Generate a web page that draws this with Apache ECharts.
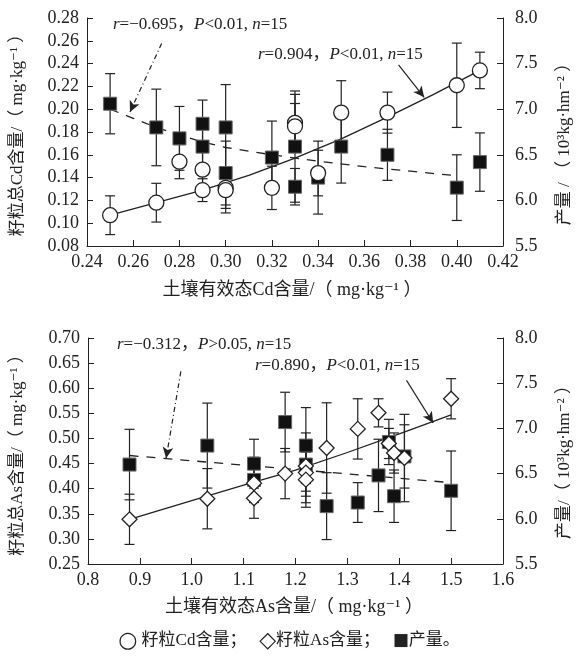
<!DOCTYPE html>
<html><head><meta charset="utf-8">
<script src="https://cdn.jsdelivr.net/npm/echarts@6/dist/echarts.min.js"></script>
<style>html,body{margin:0;padding:0;background:#fff}#c{width:576px;height:660px}</style>
</head><body><div id="c"></div>
<script>
// ---------- Top chart: soil available Cd ----------
const cdX      = [0.25,0.27,0.28,0.29,0.29,0.30,0.30,0.32,0.33,0.33,0.34,0.35,0.37,0.40,0.41];
const cdGrain  = [0.107,0.118,0.154,0.147,0.129,0.131,0.129,0.131,0.188,0.185,0.144,0.197,0.197,0.221,0.234];
const cdGrainErr=[0.017,0.017,0.015,0.015,0.010,0.018,0.020,0.019,0.025,0.020,0.020,0.028,0.018,0.037,0.016];
const cdYieldX = [0.25,0.27,0.28,0.29,0.29,0.30,0.30,0.32,0.33,0.33,0.34,0.35,0.37,0.40,0.41];
const cdYield  = [7.06,6.80,6.68,6.84,6.59,6.80,6.30,6.47,6.59,6.15,6.25,6.59,6.50,6.14,6.42];
const cdYieldErr=[0.33,0.42,0.35,0.26,0.30,0.47,0.35,0.40,0.61,0.20,0.40,0.40,0.28,0.36,0.32];
const cdFitX   = [0.25,0.27,0.29,0.31,0.33,0.35,0.37,0.39,0.41];
const cdFitY   = [0.107,0.118,0.129,0.142,0.157,0.174,0.193,0.213,0.234];
const cdYFitX  = [0.25,0.26,0.27,0.28,0.29,0.30,0.32,0.34,0.36,0.38,0.40];
const cdYFitY  = [7.00,6.90,6.80,6.72,6.64,6.58,6.50,6.43,6.37,6.32,6.27];
const cdArrowNeg = [[0.2723,7.72],[0.2586,6.97]];
const cdArrowPos = [[0.3748,0.2388],[0.3859,0.2104]];
const cdXTicks = {min:0.24,max:0.42,step:0.02};
const cdYTicks = {min:0.08,max:0.28,step:0.02};
const yieldTicks = {min:5.5,max:8.0,step:0.5};

// ---------- Bottom chart: soil available As ----------
const asX      = [0.88,1.03,1.12,1.12,1.18,1.22,1.22,1.22,1.26,1.32,1.36,1.38,1.39,1.41,1.50];
const asGrain  = [0.339,0.380,0.381,0.411,0.430,0.445,0.432,0.418,0.481,0.519,0.551,0.490,0.471,0.461,0.579];
const asGrainErr=[0.050,0.060,0.040,0.030,0.050,0.050,0.060,0.055,0.090,0.060,0.028,0.030,0.040,0.087,0.040];
const asYieldX = [0.88,1.03,1.12,1.12,1.18,1.22,1.22,1.26,1.32,1.36,1.38,1.39,1.41,1.50];
const asYield  = [6.60,6.81,6.61,6.43,7.07,6.81,6.60,6.14,6.18,6.48,6.85,6.25,6.69,6.31];
const asYieldErr=[0.39,0.47,0.27,0.25,0.33,0.42,0.35,0.37,0.22,0.40,0.25,0.29,0.35,0.44];
const asFitX   = [0.88,1.0,1.1,1.2,1.3,1.4,1.5];
const asFitY   = [0.339,0.376,0.407,0.437,0.472,0.509,0.547];
const asYFitX  = [0.88,1.50];
const asYFitY  = [6.70,6.40];
const asArrowNeg = [[0.979,7.63],[0.9506,6.67]];
const asArrowPos = [[1.414,0.6156],[1.4654,0.5307]];
const asXTicks = {min:0.8,max:1.6,step:0.1};
const asYTicks = {min:0.25,max:0.70,step:0.05};

const FONT = "'Liberation Serif','DejaVu Serif','Noto Sans CJK SC',serif";
const INK = '#222';

function xAx(g, t, dec){
  return {gridIndex:g,type:'value',min:t.min,max:t.max,interval:t.step,
    axisLine:{show:true,onZero:false,lineStyle:{color:INK,width:1}},
    axisTick:{show:true,inside:true,length:6,lineStyle:{color:INK}},
    axisLabel:{fontSize:18,color:INK,fontFamily:FONT,margin:7,formatter:v=>v.toFixed(dec)},
    splitLine:{show:false}};
}
function yAx(g, t, dec, pos){
  return {gridIndex:g,type:'value',position:pos,min:t.min,max:t.max,interval:t.step,
    axisLine:{show:true,onZero:false,lineStyle:{color:INK,width:1}},
    axisTick:{show:true,inside:true,length:6,lineStyle:{color:INK}},
    axisLabel:{fontSize:18,color:INK,fontFamily:FONT,margin:pos==='left'?8:12,formatter:v=>v.toFixed(dec)},
    splitLine:{show:false}};
}
function errBars(xs, ys, es, xi, yi){
  return {type:'custom',xAxisIndex:xi,yAxisIndex:yi,z:2,silent:true,
    data:xs.map((x,i)=>[x,ys[i]-es[i],ys[i]+es[i]]),
    encode:{x:0,y:[1,2]},
    renderItem:function(params,api){
      const x=api.value(0),lo=api.coord([x,api.value(1)]),hi=api.coord([x,api.value(2)]);
      const w=5, st={stroke:INK,lineWidth:1.2};
      return {type:'group',children:[
        {type:'line',shape:{x1:lo[0],y1:lo[1],x2:hi[0],y2:hi[1]},style:st},
        {type:'line',shape:{x1:lo[0]-w,y1:lo[1],x2:lo[0]+w,y2:lo[1]},style:st},
        {type:'line',shape:{x1:hi[0]-w,y1:hi[1],x2:hi[0]+w,y2:hi[1]},style:st}]};
    }};
}
function pts(xs, ys){ return xs.map((x,i)=>[x,ys[i]]); }
function markers(xs, ys, xi, yi, kind, z){
  const s = {type:'scatter',xAxisIndex:xi,yAxisIndex:yi,z:z,data:pts(xs,ys),silent:true};
  if(kind==='circle'){ s.symbol='circle'; s.symbolSize=15; s.itemStyle={color:'#fff',borderColor:INK,borderWidth:1.3,opacity:1}; }
  if(kind==='diamond'){ s.symbol='diamond'; s.symbolSize=[15,15]; s.itemStyle={color:'#fff',borderColor:INK,borderWidth:1.3,opacity:1}; }
  if(kind==='square'){ s.symbol='rect'; s.symbolSize=13; s.itemStyle={color:'#111',borderColor:'#666',borderWidth:1,opacity:1}; }
  return s;
}
function fitLine(xs, ys, xi, yi, dashed, arrow, arrowDash){
  return {type:'line',xAxisIndex:xi,yAxisIndex:yi,z:3,data:pts(xs,ys),showSymbol:false,symbol:'none',silent:true,
    lineStyle:{color:INK,width:1.3,type:dashed?[9,8]:'solid'},
    markLine:{silent:true,symbol:['none','arrow'],symbolSize:[8,11],label:{show:false},
      lineStyle:{color:INK,width:1.2,type:arrowDash?[5,3,1,3]:'solid'},
      data:[[{coord:arrow[0]},{coord:arrow[1]}]]}};
}
function ann(x, y, rv, pSign, pv){
  return {type:'text',x:x,y:y,silent:true,style:{
    text:'{i|r}=' + rv + '，{i|P}' + pSign + pv + ', {i|n}=15',
    font:'17px ' + FONT, fill:INK, textVerticalAlign:'middle', verticalAlign:'middle',
    rich:{i:{fontStyle:'italic',fontSize:17,fontFamily:FONT,fill:INK,color:INK}}}};
}
function txt(x, y, s, rot, size){
  return {type:'text',x:x,y:y,rotation:rot||0,silent:true,style:{text:s,x:0,y:0,
    font:(size||16)+'px ' + FONT, fill:INK,
    textAlign:'center',align:'center',textVerticalAlign:'middle',verticalAlign:'middle'}};
}
function legendText(x, y){
  return {type:'text',x:x,y:y,silent:true,style:{
    text:'{s|○} 籽粒Cd含量；   {s|◇}籽粒As含量；   {q|■}产量。',
    font:'17px ' + FONT, fill:INK, textAlign:'center',align:'center',textVerticalAlign:'middle',verticalAlign:'middle',
    rich:{s:{fontSize:22,fontFamily:"'DejaVu Sans',sans-serif",fill:INK,color:INK},
          q:{fontSize:17,fontFamily:"'DejaVu Sans',sans-serif",fill:INK,color:INK}}}};
}

const option = {
  animation:false,
  backgroundColor:'#fff',
  grid:[{left:87,top:18,width:416,height:228},{left:88,top:338,width:415,height:226}],
  xAxis:[xAx(0,cdXTicks,2), xAx(1,asXTicks,1)],
  yAxis:[yAx(0,cdYTicks,2,'left'), yAx(0,yieldTicks,1,'right'), yAx(1,asYTicks,2,'left'), yAx(1,yieldTicks,1,'right')],
  series:[
    errBars(cdYieldX,cdYield,cdYieldErr,0,1),
    errBars(cdX,cdGrain,cdGrainErr,0,0),
    fitLine(cdFitX,cdFitY,0,0,false,cdArrowPos,false),
    fitLine(cdYFitX,cdYFitY,0,1,true,cdArrowNeg,true),
    markers(cdYieldX,cdYield,0,1,'square',4),
    markers(cdX,cdGrain,0,0,'circle',5),

    errBars(asYieldX,asYield,asYieldErr,1,3),
    errBars(asX,asGrain,asGrainErr,1,2),
    fitLine(asFitX,asFitY,1,2,false,asArrowPos,false),
    fitLine(asYFitX,asYFitY,1,3,true,asArrowNeg,true),
    markers(asYieldX,asYield,1,3,'square',4),
    markers(asX,asGrain,1,2,'diamond',5)
  ],
  graphic:[
    ann(113,25,'−0.695','<','0.01'),
    ann(258,55,'0.904','<','0.01'),
    ann(117,345,'−0.312','>','0.05'),
    ann(255,366,'0.890','<','0.01'),
    txt(18,131,'籽粒总Cd含量/（ mg·kg⁻¹ ）',Math.PI/2,17),
    txt(565,140,'产量 / （ 10³kg·hm⁻² ）',Math.PI/2,17),
    txt(18,451,'籽粒总As含量/（ mg·kg⁻¹ ）',Math.PI/2,17),
    txt(565,458,'产量/（ 10³kg·hm⁻² ）',Math.PI/2,17),
    txt(292,290,'土壤有效态Cd含量/（ mg·kg⁻¹ ）',0,18),
    txt(294,607,'土壤有效态As含量/（ mg·kg⁻¹ ）',0,18),
    legendText(289,641)
  ]
};
const chart = echarts.init(document.getElementById('c'),null,{renderer:'canvas'});
chart.setOption(option);
</script></body></html>
